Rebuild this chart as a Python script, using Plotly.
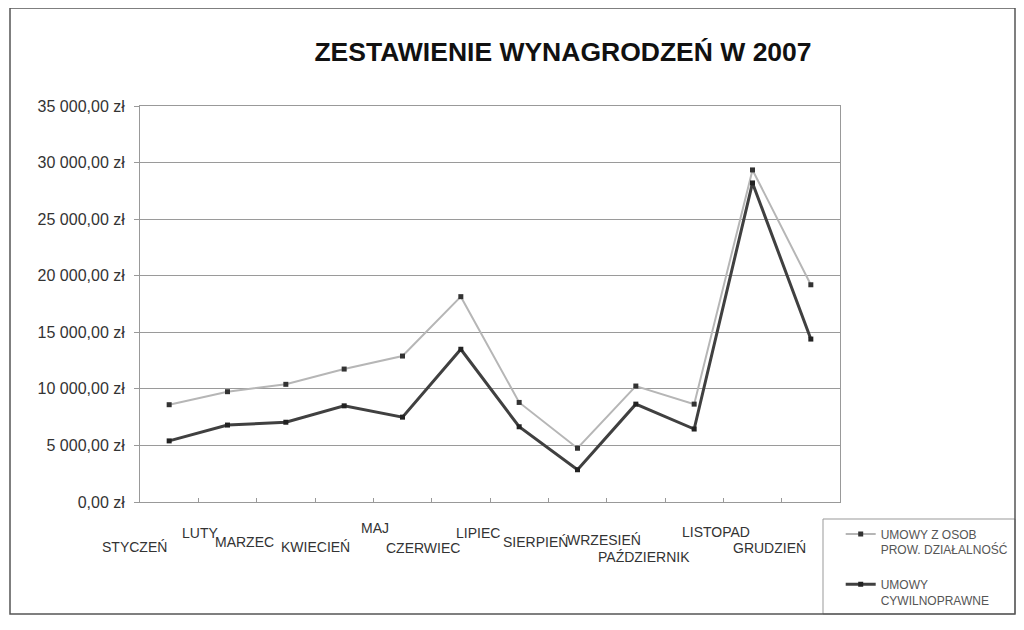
import plotly.graph_objects as go

months = ["STYCZEŃ", "LUTY", "MARZEC", "KWIECIEŃ", "MAJ", "CZERWIEC",
          "LIPIEC", "SIERPIEŃ", "WRZESIEŃ", "PAŹDZIERNIK", "LISTOPAD", "GRUDZIEŃ"]
umowy_dzialalnosc = [8600, 9750, 10400, 11750, 12900, 18150,
                     8800, 4750, 10250, 8650, 29350, 19200]
umowy_cywilnoprawne = [5400, 6800, 7050, 8500, 7500, 13500,
                       6650, 2850, 8650, 6450, 28200, 14400]
y_ticks = [0, 5000, 10000, 15000, 20000, 25000, 30000, 35000]
y_tick_labels = ["0,00 zł", "5 000,00 zł", "10 000,00 zł", "15 000,00 zł",
                 "20 000,00 zł", "25 000,00 zł", "30 000,00 zł", "35 000,00 zł"]

# label placement (style only): the scan's staggered category labels
label_xshift = [-35, -28, -41, -29, -28, -38, -41, -42, -32, -50, -37, -41]
label_yshift = [-45, -31, -40, -45, -26, -46, -31, -40, -38, -55, -30, -46]

FONT = "Liberation Sans, Arial, sans-serif"
PLOT_W, PLOT_H = 700, 396

fig = go.Figure()
fig.add_trace(go.Scatter(
    x=months, y=umowy_dzialalnosc, mode="lines+markers",
    name="UMOWY Z OSOB<br>PROW. DZIAŁALNOŚĆ", legendgroup="a",
    line=dict(color="#b6b6b6", width=2),
    marker=dict(symbol="square", size=5, color="#333333"),
))
fig.add_trace(go.Scatter(
    x=months, y=umowy_cywilnoprawne, mode="lines+markers",
    name="UMOWY<br>CYWILNOPRAWNE", legendgroup="b",
    line=dict(color="#404040", width=3),
    marker=dict(symbol="square", size=5, color="#222222"),
))

for m, dx, dy in zip(months, label_xshift, label_yshift):
    fig.add_annotation(x=m, xref="x", y=0, yref="paper", text=m,
                       showarrow=False, xanchor="center", yanchor="middle",
                       xshift=dx, yshift=dy,
                       font=dict(family=FONT, size=14, color="#333333"))

fig.update_layout(
    width=1024, height=630,
    margin=dict(l=132, r=192, t=98, b=136),
    paper_bgcolor="white", plot_bgcolor="white",
    title=dict(text="<b>ZESTAWIENIE WYNAGRODZEŃ W 2007</b>",
               x=0.542, xanchor="center", y=0.93, yanchor="middle",
               font=dict(family=FONT, size=26.5, color="#111111")),
    font=dict(family=FONT, size=12, color="#333333"),
    showlegend=True,
    legend=dict(x=1.001, xanchor="left", y=-0.045, yanchor="top",
                borderwidth=0, bgcolor="rgba(0,0,0,0)", valign="top",
                font=dict(family=FONT, size=12, color="#555555"),
                tracegroupgap=16),
    xaxis=dict(range=[-0.5, 11.5], showticklabels=False, showgrid=False,
               showline=True, linecolor="#999999", linewidth=1, mirror=True,
               ticks="inside", ticklen=4, tickcolor="#999999",
               tickson="boundaries"),
    yaxis=dict(range=[0, 35000], tickvals=y_ticks, ticktext=y_tick_labels,
               showgrid=True, gridcolor="#9a9a9a", gridwidth=1,
               showline=True, linecolor="#999999", mirror=True,
               ticks="outside", ticklen=5, tickcolor="#999999",
               ticklabelstandoff=6, zeroline=False,
               tickfont=dict(family=FONT, size=16, color="#333333")),
)

# legend box
fig.add_shape(type="rect", xref="paper", yref="paper",
              x0=(815 - 132) / PLOT_W, x1=(1007 - 132) / PLOT_W,
              y0=(494 - 606) / PLOT_H, y1=(494 - 511) / PLOT_H,
              line=dict(color="#999999", width=1))
# outer chart frame
fig.add_shape(type="rect", xref="paper", yref="paper",
              x0=(2 - 132) / PLOT_W, x1=(1007 - 132) / PLOT_W,
              y0=(494 - 606) / PLOT_H, y1=(494 - 0) / PLOT_H,
              line=dict(color="#555555", width=1.5))

fig.write_html("out.html")
